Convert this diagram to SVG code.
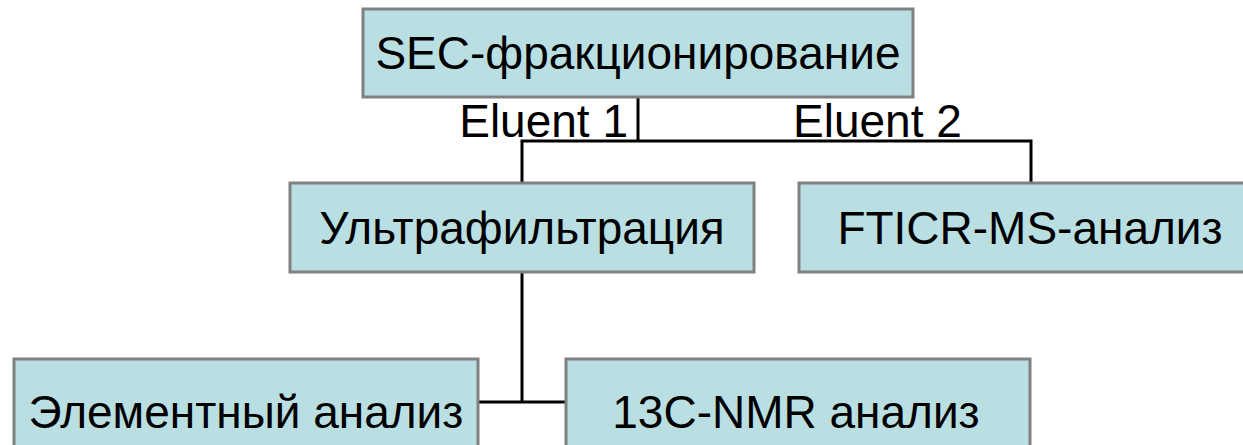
<svg xmlns="http://www.w3.org/2000/svg" width="1243" height="445" viewBox="0 0 1243 445">
<style>
.box{fill:#b9dfe3;stroke:#808080;stroke-width:3}
.t{font-family:"Liberation Sans",Arial,sans-serif;font-size:46px;fill:#000}
.c{text-anchor:middle}
.con{fill:none;stroke:#000;stroke-width:3}
</style>
<rect width="1243" height="445" fill="#fff"/>
<g id="connectors">
<line class="con" x1="638" y1="97" x2="638" y2="141"/>
<polyline class="con" points="522,183 522,141 1031,141 1031,183"/>
<line class="con" x1="522" y1="272" x2="522" y2="402"/>
<line class="con" x1="478" y1="402" x2="566" y2="402"/>
</g>
<g id="labels">
<text class="t" x="628" y="137" text-anchor="end">Eluent 1</text>
<text class="t" x="793" y="137">Eluent 2</text>
</g>
<g id="sec">
<rect class="box" x="363" y="9" width="550" height="88"/>
<text class="t c" x="638" y="69">SEC-фракционирование</text>
</g>
<g id="ultra">
<rect class="box" x="290" y="183" width="464" height="89"/>
<text class="t c" x="522" y="244">Ультрафильтрация</text>
</g>
<g id="fticr">
<rect class="box" x="799" y="183" width="464" height="89"/>
<text class="t c" x="1030" y="244">FTICR-MS-анализ</text>
</g>
<g id="elem">
<rect class="box" x="14" y="359" width="464" height="100"/>
<text class="t c" x="246" y="428">Элементный анализ</text>
</g>
<g id="nmr">
<rect class="box" x="566" y="359" width="464" height="100"/>
<text class="t c" x="796" y="428">13C-NMR анализ</text>
</g>
</svg>
